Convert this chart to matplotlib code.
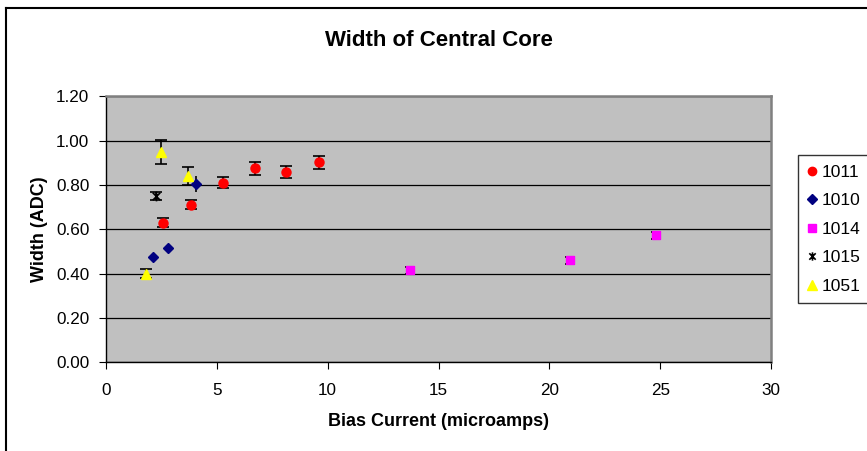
import numpy as np
import matplotlib
matplotlib.use('Agg')
import matplotlib.pyplot as plt
from matplotlib.path import Path
from matplotlib.lines import Line2D

plt.rcParams['font.family'] = ['Liberation Sans', 'DejaVu Sans']

# Data (bias current in microamps, width in ADC)
x_1011 = [2.55, 3.85, 5.3, 6.7, 8.1, 9.6]
y_1011 = [0.63, 0.71, 0.81, 0.875, 0.857, 0.903]
e_1011 = [0.02, 0.02, 0.025, 0.03, 0.027, 0.03]

x_1010 = [2.1, 2.8, 4.05]
y_1010 = [0.475, 0.513, 0.805]
e_1010 = [0.0, 0.0, 0.036]

x_1014 = [13.7, 20.95, 24.8]
y_1014 = [0.415, 0.46, 0.573]
e_1014 = [0.015, 0.015, 0.015]

x_1015 = [2.25]
y_1015 = [0.75]
e_1015 = [0.02]

x_1051 = [1.8, 2.47, 3.68]
y_1051 = [0.40, 0.95, 0.842]
e_1051 = [0.02, 0.055, 0.04]

# Excel style star marker: an X with a vertical bar
star = Path([(-1, -1), (1, 1), (-1, 1), (1, -1), (0, -1.3), (0, 1.3)],
            [Path.MOVETO, Path.LINETO, Path.MOVETO, Path.LINETO, Path.MOVETO, Path.LINETO])

fig = plt.figure(figsize=(8.67, 4.51), dpi=100)
ax = fig.add_axes([106 / 867, 1 - 362 / 451, 665 / 867, 265.5 / 451])
ax.set_facecolor('#C0C0C0')

eb = dict(ecolor='black', elinewidth=1.2, capthick=1.2, linestyle='none')
ax.errorbar(x_1011, y_1011, yerr=e_1011, fmt='o', color='#FF0000', ms=6.5, capsize=4,
            zorder=4, **eb)
ax.errorbar(x_1010, y_1010, yerr=e_1010, fmt='D', color='#000080', ms=5.5, capsize=0,
            zorder=4, **eb)
ax.errorbar(x_1014, y_1014, yerr=e_1014, fmt='none', capsize=3.5, zorder=3, **eb)
ax.plot(x_1014, y_1014, 's', color='#FF00FF', ms=6, zorder=4)
ax.errorbar(x_1015, y_1015, yerr=e_1015, fmt='none', capsize=4, zorder=4, **eb)
ax.plot(x_1015, y_1015, linestyle='none', marker=star, ms=7, mec='black', mew=1.2,
        color='black', zorder=5)
ax.errorbar(x_1051, y_1051, yerr=e_1051, fmt='^', color='#FFFF00', ms=7.5, capsize=4,
            zorder=4, **eb)

ax.set_xlim(0, 30)
ax.set_ylim(0, 1.2)
ax.set_xticks(np.arange(0, 31, 5))
ax.set_yticks(np.arange(0, 1.21, 0.2))
ax.set_yticklabels([f'{v:.2f}' for v in np.arange(0, 1.21, 0.2)])
ax.yaxis.grid(True, color='black', linewidth=0.9)
ax.set_axisbelow(True)
ax.tick_params(axis='both', direction='out', labelsize=12.3, color='black')
ax.tick_params(axis='y', length=5, pad=7)
ax.tick_params(axis='x', length=5, pad=10)

for s in ['left', 'bottom']:
    ax.spines[s].set_color('black')
    ax.spines[s].set_linewidth(1.0)
for s in ['top', 'right']:
    ax.spines[s].set_color('#808080')
    ax.spines[s].set_linewidth(1.8)

fig.text(439 / 867, 1 - 40 / 451, 'Width of Central Core', ha='center', va='center',
         fontsize=16, fontweight='bold')
ax.set_xlabel('Bias Current (microamps)', fontsize=13, fontweight='bold', labelpad=11)
ax.set_ylabel('Width (ADC)', fontsize=13, fontweight='bold', labelpad=6)

# legend shows markers only
series = ['1011', '1010', '1014', '1015', '1051']
handles = [
    Line2D([], [], linestyle='none', marker='o', color='#FF0000', ms=6),
    Line2D([], [], linestyle='none', marker='D', color='#000080', ms=5),
    Line2D([], [], linestyle='none', marker='s', color='#FF00FF', ms=5.5),
    Line2D([], [], linestyle='none', marker=star, ms=6, mec='black', mew=1.2),
    Line2D([], [], linestyle='none', marker='^', color='#FFFF00', ms=7.5),
]
leg = fig.legend(handles, series, loc='upper left',
                 bbox_to_anchor=(798 / 867, 1 - 155 / 451), fontsize=12.5,
                 frameon=True, fancybox=False, borderpad=0.55, labelspacing=0.77,
                 handlelength=0.5, handletextpad=0.3, borderaxespad=0)
leg.get_frame().set_edgecolor('black')
leg.get_frame().set_linewidth(1.0)

# outer chart border (only top and left edges show in the reference)
fig.add_artist(Line2D([6 / 867, 1], [1 - 8 / 451, 1 - 8 / 451], color='black', lw=1.5))
fig.add_artist(Line2D([6 / 867, 6 / 867], [0, 1 - 8 / 451], color='black', lw=1.5))

fig.savefig('out.png', dpi=100)
